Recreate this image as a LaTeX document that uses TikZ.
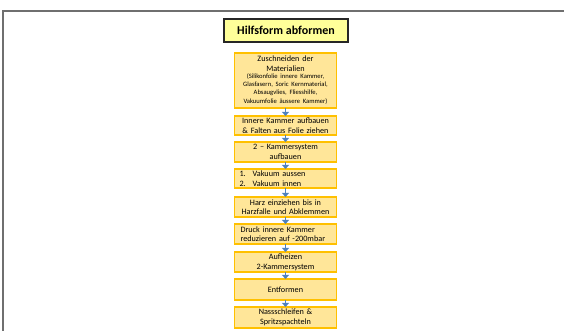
\documentclass[tikz,border=0pt]{standalone}
\usepackage{fontspec}
\setmainfont{Carlito}
\usetikzlibrary{arrows.meta}
\definecolor{boxfill}{HTML}{FFE699}
\definecolor{boxline}{HTML}{FFC000}
\definecolor{titlefill}{HTML}{FFFF99}
\definecolor{arrowblue}{HTML}{4F81BD}
\definecolor{framegray}{HTML}{6F6F6F}
\begin{document}
\begin{tikzpicture}[x=1pt,y=-1pt,
  stepbox/.style={draw=boxline, fill=boxfill, line width=1.3pt, minimum width=102pt,
    text width=100pt, inner sep=0pt, align=center, font=\fontsize{8.2}{9.6}\selectfont},
  titlebox/.style={draw=black!85, fill=titlefill, line width=1.1pt, minimum width=124pt,
    minimum height=23pt, inner sep=0pt, font=\fontsize{12}{14}\selectfont\bfseries},
  flow/.style={draw=arrowblue, line width=1.4pt, shorten <=-0.6pt, shorten >=-0.6pt,
    -{Triangle[length=4pt,width=7pt]}}]
\useasboundingbox (0,0) rectangle (564,331);
\draw[framegray, line width=1.8pt] (3,331) -- (3,11) -- (564,11);
\node[titlebox] (t) at (286,30.5) {Hilfsform abformen};
\node[stepbox, minimum height=55pt] (b1) at (285.5,80.5) {Zuschneiden der\\Materialien\\[-1pt]
  {\fontsize{6.6}{8}\selectfont (Silikonfolie innere Kammer,\\Glasfasern, Soric Kernmaterial,\\Absaugvlies, Fliesshilfe,\\Vakuumfolie äussere Kammer)}};
\node[stepbox, minimum height=19pt] (b2) at (285.5,125.5) {Innere Kammer aufbauen\\\& Falten aus Folie ziehen};
\node[stepbox, minimum height=20pt] (b3) at (285.5,152) {2 – Kammersystem\\aufbauen};
\node[stepbox, minimum height=19pt, align=left, text width=92pt] (b4) at (285.5,178.5) {1.\hspace{7pt}Vakuum aussen\\2.\hspace{7pt}Vakuum innen};
\node[stepbox, minimum height=20pt] (b5) at (285.5,207) {Harz einziehen bis in\\Harzfalle und Abklemmen};
\node[stepbox, minimum height=20pt, align=left, text width=90pt] (b6) at (285.5,234) {Druck innere Kammer\\reduzieren auf -200mbar};
\node[stepbox, minimum height=20pt] (b7) at (285.5,262) {Aufheizen\\2-Kammersystem};
\node[stepbox, minimum height=21pt] (b8) at (285.5,289.5) {Entformen};
\node[stepbox, minimum height=21pt] (b9) at (285.5,317.5) {Nassschleifen \&\\Spritzspachteln};
\foreach \a/\b in {b1/b2,b2/b3,b3/b4,b4/b5,b5/b6,b6/b7,b7/b8,b8/b9}
  \draw[flow] (\a.south) -- (\b.north);
\end{tikzpicture}
\end{document}
